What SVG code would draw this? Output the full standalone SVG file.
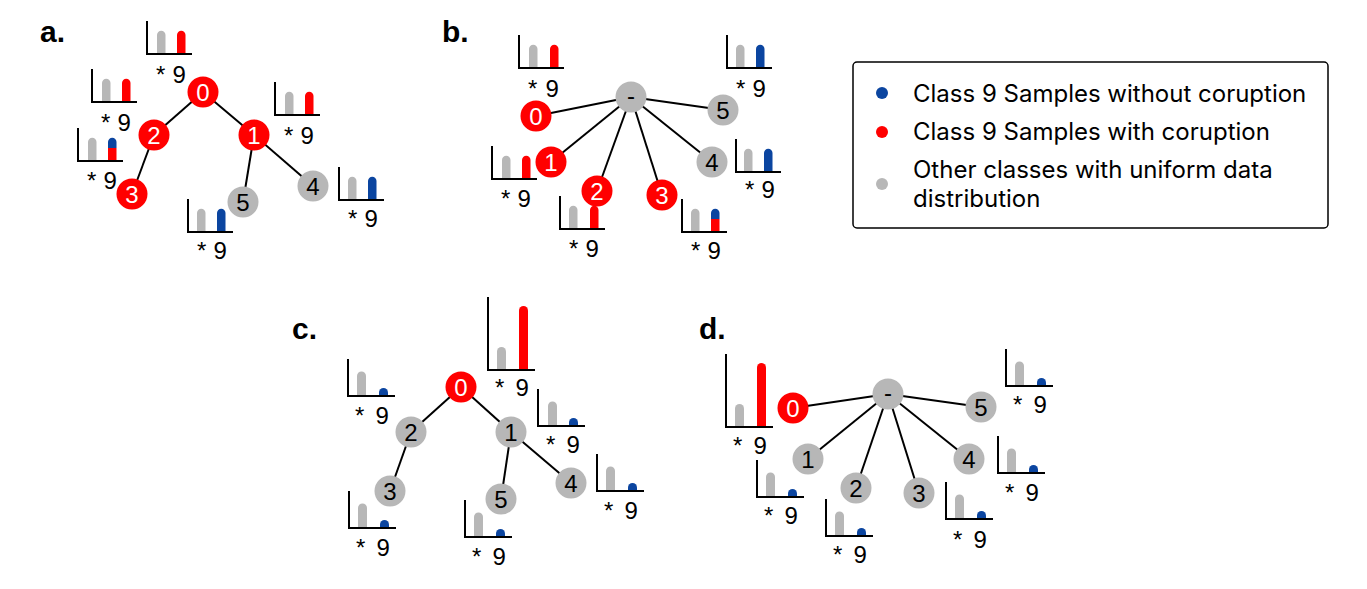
<svg xmlns="http://www.w3.org/2000/svg" xmlns:xlink="http://www.w3.org/1999/xlink" width="1367" height="589" viewBox="0 0 1367 589">
<style>
.bg{fill:#ffffff}
.edge{stroke:#000;stroke-width:2;fill:none}
.ax{stroke:#000;stroke-width:2;fill:none}
.g{fill:#b7b7b7}
.r{fill:#ff0000}
.bl{fill:#0b45a0}
.lbl{font-family:"Liberation Sans",Arial,sans-serif;font-size:24px;fill:#000}
.nt{font-family:"Liberation Sans",Arial,sans-serif;font-size:24px;text-anchor:middle}
.w{fill:#fff}
.k{fill:#000}
.pl{font-family:"Liberation Sans",Arial,sans-serif;font-size:30px;font-weight:bold;fill:#000}
.lg{font-family:Inter,"Liberation Sans",sans-serif;font-size:24px;fill:#000}
</style>
<defs>
<path id="axS" d="M0,-33V0H45"/>
<path id="b23" d="M0,-1V-19A4.25,4.25 0 0 1 8.5,-19V-1Z"/>
<path id="b23top" d="M0,-13V-19A4.25,4.25 0 0 1 8.5,-19V-13Z"/>
<path id="b13sq" d="M0,-1V-13H8.5V-1Z"/>
<path id="axM" d="M0,-37V0H47"/>
<path id="axL" d="M0,-73V0H47"/>
<path id="g24" d="M0,-1V-20A4.5,4.5 0 0 1 9,-20V-1Z"/>
<path id="b8" d="M0,-1V-3.5A4.5,4.5 0 0 1 9,-3.5V-1Z"/>
<path id="r64" d="M0,-1V-59.5A4.5,4.5 0 0 1 9,-59.5V-1Z"/>
<path id="g23" d="M0,-1V-18.5A4.5,4.5 0 0 1 9,-18.5V-1Z"/>
</defs>
<rect class="bg" x="0" y="0" width="1367" height="589"/>

<g id="panel-labels">
<text class="pl" x="40" y="42">a.</text>
<text class="pl" x="442" y="42">b.</text>
<text class="pl" x="292" y="339">c.</text>
<text class="pl" x="699" y="339">d.</text>
</g>

<g id="connectors">
<line class="edge" x1="203" y1="92" x2="154" y2="135"/>
<line class="edge" x1="203" y1="92" x2="254" y2="135"/>
<line class="edge" x1="154" y1="135" x2="132" y2="194"/>
<line class="edge" x1="254" y1="135" x2="243" y2="202"/>
<line class="edge" x1="254" y1="135" x2="313" y2="186"/>
<line class="edge" x1="631" y1="97" x2="536" y2="116"/>
<line class="edge" x1="631" y1="97" x2="723" y2="110"/>
<line class="edge" x1="631" y1="97" x2="551" y2="162"/>
<line class="edge" x1="631" y1="97" x2="597" y2="191"/>
<line class="edge" x1="631" y1="97" x2="662" y2="195"/>
<line class="edge" x1="631" y1="97" x2="712" y2="162"/>
<line class="edge" x1="461" y1="387" x2="411" y2="432"/>
<line class="edge" x1="461" y1="387" x2="511" y2="432"/>
<line class="edge" x1="411" y1="432" x2="390" y2="491"/>
<line class="edge" x1="511" y1="432" x2="501" y2="499"/>
<line class="edge" x1="511" y1="432" x2="571" y2="483"/>
<line class="edge" x1="888" y1="394" x2="793" y2="408"/>
<line class="edge" x1="888" y1="394" x2="981" y2="407"/>
<line class="edge" x1="888" y1="394" x2="808" y2="459"/>
<line class="edge" x1="888" y1="394" x2="856" y2="488"/>
<line class="edge" x1="888" y1="394" x2="919" y2="493"/>
<line class="edge" x1="888" y1="394" x2="969" y2="459"/>
</g>

<!-- Panel a nodes -->
<g id="a-n0"><circle class="r" cx="203" cy="92" r="15.5"/><text class="nt w" x="203" y="100.5">0</text></g>
<g id="a-n2"><circle class="r" cx="154" cy="135" r="15.5"/><text class="nt w" x="154" y="143.5">2</text></g>
<g id="a-n1"><circle class="r" cx="254" cy="135" r="15.5"/><text class="nt w" x="254" y="143.5">1</text></g>
<g id="a-n3"><circle class="r" cx="132" cy="194" r="15.5"/><text class="nt w" x="132" y="202.5">3</text></g>
<g id="a-n5"><circle class="g" cx="243" cy="202" r="15.5"/><text class="nt k" x="243" y="210.5">5</text></g>
<g id="a-n4"><circle class="g" cx="313" cy="186" r="15.5"/><text class="nt k" x="313" y="194.5">4</text></g>

<!-- Panel a charts -->
<g id="a-c0" transform="translate(147,54)"><use href="#axS" class="ax"/><use href="#b23" x="10" class="g"/><use href="#b23" x="30" class="r"/><text class="lbl" y="29"><tspan x="9">*</tspan> <tspan x="25.5">9</tspan></text></g>
<g id="a-c2" transform="translate(92,102)"><use href="#axS" class="ax"/><use href="#b23" x="10" class="g"/><use href="#b23" x="30" class="r"/><text class="lbl" y="29"><tspan x="9">*</tspan> <tspan x="25.5">9</tspan></text></g>
<g id="a-c3" transform="translate(78,161)"><use href="#axS" class="ax"/><use href="#b23" x="10" class="g"/><use href="#b23top" x="30" class="bl"/><use href="#b13sq" x="30" class="r"/><text class="lbl" y="28"><tspan x="9">*</tspan> <tspan x="25.5">9</tspan></text></g>
<g id="a-c1" transform="translate(275,115)"><use href="#axS" class="ax"/><use href="#b23" x="10" class="g"/><use href="#b23" x="30" class="r"/><text class="lbl" y="29"><tspan x="9">*</tspan> <tspan x="25.5">9</tspan></text></g>
<g id="a-c4" transform="translate(339,200)"><use href="#axS" class="ax"/><use href="#b23" x="9" class="g"/><use href="#b23" x="29" class="bl"/><text class="lbl" y="27"><tspan x="9">*</tspan> <tspan x="25.5">9</tspan></text></g>
<g id="a-c5" transform="translate(188,232)"><use href="#axS" class="ax"/><use href="#b23" x="9" class="g"/><use href="#b23" x="29" class="bl"/><text class="lbl" y="27"><tspan x="9">*</tspan> <tspan x="25.5">9</tspan></text></g>

<!-- Panel b nodes -->
<g id="b-center"><circle class="g" cx="631" cy="97" r="15.5"/><text class="nt k" x="631" y="104">-</text></g>
<g id="b-n0"><circle class="r" cx="536" cy="116" r="15.5"/><text class="nt w" x="536" y="124.5">0</text></g>
<g id="b-n5"><circle class="g" cx="723" cy="110" r="15.5"/><text class="nt k" x="723" y="118.5">5</text></g>
<g id="b-n1"><circle class="r" cx="551" cy="162" r="15.5"/><text class="nt w" x="551" y="170.5">1</text></g>
<g id="b-n2"><circle class="r" cx="597" cy="191" r="15.5"/><text class="nt w" x="597" y="199.5">2</text></g>
<g id="b-n3"><circle class="r" cx="662" cy="195" r="15.5"/><text class="nt w" x="662" y="203.5">3</text></g>
<g id="b-n4"><circle class="g" cx="712" cy="162" r="15.5"/><text class="nt k" x="712" y="170.5">4</text></g>

<!-- Panel b charts -->
<g id="b-c0" transform="translate(519,68)"><use href="#axS" class="ax"/><use href="#b23" x="10" class="g"/><use href="#b23" x="31" class="r"/><text class="lbl" y="29"><tspan x="9">*</tspan> <tspan x="26.5">9</tspan></text></g>
<g id="b-c5" transform="translate(727,68)"><use href="#axS" class="ax"/><use href="#b23" x="9" class="g"/><use href="#b23" x="29" class="bl"/><text class="lbl" y="29"><tspan x="9">*</tspan> <tspan x="25.5">9</tspan></text></g>
<g id="b-c1" transform="translate(492,179)"><use href="#axS" class="ax"/><use href="#b23" x="10" class="g"/><use href="#b23" x="30" class="r"/><text class="lbl" y="28"><tspan x="9">*</tspan> <tspan x="25.5">9</tspan></text></g>
<g id="b-c2" transform="translate(560,229)"><use href="#axS" class="ax"/><use href="#b23" x="9" class="g"/><use href="#b23" x="30" class="r"/><text class="lbl" y="28"><tspan x="9">*</tspan> <tspan x="25.5">9</tspan></text></g>
<g id="b-c3" transform="translate(682,232)"><use href="#axS" class="ax"/><use href="#b23" x="9" class="g"/><use href="#b23top" x="29" class="bl"/><use href="#b13sq" x="29" class="r"/><text class="lbl" y="27"><tspan x="9">*</tspan> <tspan x="25.5">9</tspan></text></g>
<g id="b-c4" transform="translate(736,172)"><use href="#axS" class="ax"/><use href="#b23" x="8" class="g"/><use href="#b23" x="28" class="bl"/><text class="lbl" y="26"><tspan x="9">*</tspan> <tspan x="25.5">9</tspan></text></g>

<!-- Legend -->
<g id="legend">
<rect x="853" y="62" width="475" height="166" rx="4" fill="#fff" stroke="#000" stroke-width="1.5"/>
<circle class="bl" cx="882" cy="93" r="6"/>
<circle class="r" cx="882" cy="132" r="6"/>
<circle class="g" cx="882" cy="184" r="6"/>
<text class="lg" x="913" y="101.5">Class 9 Samples without coruption</text>
<text class="lg" x="913" y="140">Class 9 Samples with coruption</text>
<text class="lg" x="913" y="178">Other classes with uniform data</text>
<text class="lg" x="913" y="207">distribution</text>
</g>

<!-- Panel c nodes -->
<g id="c-n0"><circle class="r" cx="461" cy="387" r="15.5"/><text class="nt w" x="461" y="395.5">0</text></g>
<g id="c-n2"><circle class="g" cx="411" cy="432" r="15.5"/><text class="nt k" x="411" y="440.5">2</text></g>
<g id="c-n1"><circle class="g" cx="511" cy="432" r="15.5"/><text class="nt k" x="511" y="440.5">1</text></g>
<g id="c-n3"><circle class="g" cx="390" cy="491" r="15.5"/><text class="nt k" x="390" y="499.5">3</text></g>
<g id="c-n5"><circle class="g" cx="501" cy="499" r="15.5"/><text class="nt k" x="501" y="507.5">5</text></g>
<g id="c-n4"><circle class="g" cx="571" cy="483" r="15.5"/><text class="nt k" x="571" y="491.5">4</text></g>

<!-- Panel c charts -->
<g id="c-c0" transform="translate(488,370)"><use href="#axL" class="ax"/><use href="#g23" x="9" class="g"/><use href="#r64" x="31" class="r"/><text class="lbl" y="26"><tspan x="7">*</tspan> <tspan x="27.5">9</tspan></text></g>
<g id="c-c2" transform="translate(348,396)"><use href="#axM" class="ax"/><use href="#g24" x="9" class="g"/><use href="#b8" x="31" class="bl"/><text class="lbl" y="28"><tspan x="7">*</tspan> <tspan x="27.5">9</tspan></text></g>
<g id="c-c1" transform="translate(538,426)"><use href="#axM" class="ax"/><use href="#g24" x="10" class="g"/><use href="#b8" x="31" class="bl"/><text class="lbl" y="27"><tspan x="8">*</tspan> <tspan x="28.5">9</tspan></text></g>
<g id="c-c4" transform="translate(597,491)"><use href="#axM" class="ax"/><use href="#g24" x="9" class="g"/><use href="#b8" x="31" class="bl"/><text class="lbl" y="28"><tspan x="7">*</tspan> <tspan x="27.5">9</tspan></text></g>
<g id="c-c3" transform="translate(349,528)"><use href="#axM" class="ax"/><use href="#g24" x="9" class="g"/><use href="#b8" x="31" class="bl"/><text class="lbl" y="28"><tspan x="7">*</tspan> <tspan x="27.5">9</tspan></text></g>
<g id="c-c5" transform="translate(465,537)"><use href="#axM" class="ax"/><use href="#g24" x="9" class="g"/><use href="#b8" x="31" class="bl"/><text class="lbl" y="28"><tspan x="7">*</tspan> <tspan x="27.5">9</tspan></text></g>

<!-- Panel d nodes -->
<g id="d-center"><circle class="g" cx="888" cy="394" r="15.5"/><text class="nt k" x="888" y="401">-</text></g>
<g id="d-n0"><circle class="r" cx="793" cy="408" r="15.5"/><text class="nt w" x="793" y="416.5">0</text></g>
<g id="d-n5"><circle class="g" cx="981" cy="407" r="15.5"/><text class="nt k" x="981" y="415.5">5</text></g>
<g id="d-n1"><circle class="g" cx="808" cy="459" r="15.5"/><text class="nt k" x="808" y="467.5">1</text></g>
<g id="d-n2"><circle class="g" cx="856" cy="488" r="15.5"/><text class="nt k" x="856" y="496.5">2</text></g>
<g id="d-n3"><circle class="g" cx="919" cy="493" r="15.5"/><text class="nt k" x="919" y="501.5">3</text></g>
<g id="d-n4"><circle class="g" cx="969" cy="459" r="15.5"/><text class="nt k" x="969" y="467.5">4</text></g>

<!-- Panel d charts -->
<g id="d-c0" transform="translate(726,427)"><use href="#axL" class="ax"/><use href="#g23" x="9" class="g"/><use href="#r64" x="31" class="r"/><text class="lbl" y="27"><tspan x="7">*</tspan> <tspan x="27.5">9</tspan></text></g>
<g id="d-c5" transform="translate(1006,386)"><use href="#axM" class="ax"/><use href="#g24" x="9" class="g"/><use href="#b8" x="31" class="bl"/><text class="lbl" y="27"><tspan x="7">*</tspan> <tspan x="27.5">9</tspan></text></g>
<g id="d-c1" transform="translate(757,497)"><use href="#axM" class="ax"/><use href="#g24" x="9" class="g"/><use href="#b8" x="31" class="bl"/><text class="lbl" y="27"><tspan x="7">*</tspan> <tspan x="27.5">9</tspan></text></g>
<g id="d-c2" transform="translate(826,536)"><use href="#axM" class="ax"/><use href="#g24" x="9" class="g"/><use href="#b8" x="31" class="bl"/><text class="lbl" y="27"><tspan x="7">*</tspan> <tspan x="27.5">9</tspan></text></g>
<g id="d-c3" transform="translate(946,519)"><use href="#axM" class="ax"/><use href="#g24" x="9" class="g"/><use href="#b8" x="31" class="bl"/><text class="lbl" y="29"><tspan x="7">*</tspan> <tspan x="27.5">9</tspan></text></g>
<g id="d-c4" transform="translate(998,473)"><use href="#axM" class="ax"/><use href="#g24" x="9" class="g"/><use href="#b8" x="31" class="bl"/><text class="lbl" y="28"><tspan x="7">*</tspan> <tspan x="27.5">9</tspan></text></g>
</svg>
